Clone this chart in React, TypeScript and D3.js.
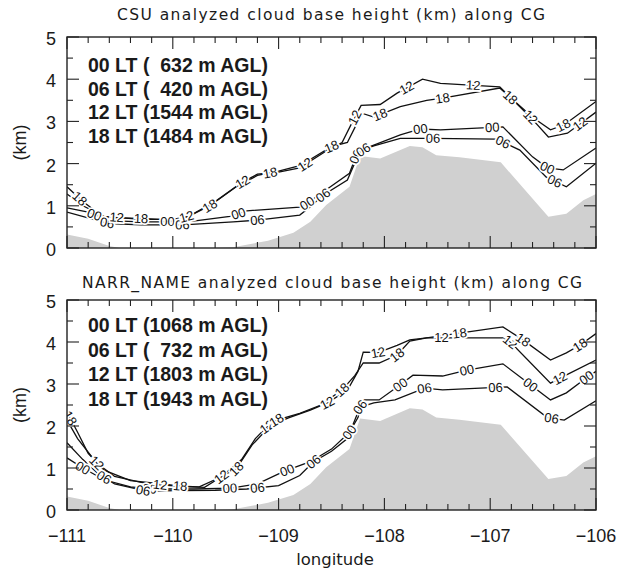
import React from "react";
import * as d3 from "d3";

const lonTicks = [-111, -110, -109, -108, -107, -106];
const kmTicks = [0, 1, 2, 3, 4, 5];

const terrainLon = [-111, -110.8, -110.6, -110.5, -109.6, -109.43, -109.1, -108.86, -108.7, -108.55, -108.33, -108.23, -108.04, -107.76, -107.64, -107.51, -107.29, -106.9, -106.45, -106.28, -106.12, -106];
const terrainKm = [0.32, 0.22, 0.05, 0, 0, 0.02, 0.17, 0.36, 0.62, 1.02, 1.45, 2.18, 2.12, 2.42, 2.39, 2.2, 2.15, 2.03, 0.74, 0.81, 1.13, 1.28];

// CSU analyzed cloud base height (lon, km)
const csu00: [number, number][] = [[-111, 0.95], [-110.8, 0.85], [-110.6, 0.65], [-110.3, 0.62], [-109.9, 0.62], [-109.77, 0.65], [-109.46, 0.75], [-109.3, 0.88], [-108.8, 0.97], [-108.73, 1.06], [-108.51, 1.45], [-108.33, 1.77], [-108.25, 2.3], [-108.1, 2.44], [-107.85, 2.68], [-107.66, 2.82], [-107.47, 2.8], [-106.88, 2.87], [-106.6, 2.16], [-106.46, 1.9], [-106.31, 1.85], [-106, 2.37]];
const csu06: [number, number][] = [[-111, 0.85], [-110.75, 0.68], [-110.6, 0.58], [-110.3, 0.55], [-109.9, 0.55], [-109.43, 0.62], [-109.2, 0.66], [-108.8, 0.78], [-108.7, 0.98], [-108.58, 1.25], [-108.35, 1.61], [-108.23, 2.3], [-108.1, 2.42], [-107.85, 2.6], [-107.54, 2.6], [-106.94, 2.58], [-106.88, 2.51], [-106.72, 2.32], [-106.47, 1.68], [-106.28, 1.45], [-106, 2.01]];
const csu12: [number, number][] = [[-111, 1.28], [-110.85, 1.0], [-110.65, 0.75], [-110.3, 0.68], [-110.0, 0.68], [-109.85, 0.75], [-109.6, 1.1], [-109.35, 1.55], [-109.2, 1.75], [-109.0, 1.8], [-108.8, 1.9], [-108.55, 2.3], [-108.4, 2.5], [-108.3, 3.0], [-108.22, 3.38], [-108.04, 3.4], [-107.88, 3.67], [-107.64, 4.0], [-107.47, 3.9], [-106.91, 3.82], [-106.62, 3.1], [-106.45, 2.63], [-106.27, 2.72], [-106, 3.22]];
const csu18: [number, number][] = [[-111, 1.45], [-110.85, 1.1], [-110.65, 0.72], [-110.3, 0.7], [-110.0, 0.66], [-109.85, 0.75], [-109.65, 1.0], [-109.4, 1.45], [-109.2, 1.72], [-109.0, 1.82], [-108.8, 1.95], [-108.5, 2.4], [-108.35, 2.5], [-108.27, 2.9], [-108.22, 3.2], [-108.1, 3.1], [-107.85, 3.35], [-107.6, 3.5], [-107.45, 3.55], [-106.91, 3.79], [-106.6, 3.1], [-106.43, 2.8], [-106.3, 2.92], [-106, 3.47]];

const csu00Labels = [-110.74, -110.05, -109.38, -108.73, -108.27, -107.66, -106.98, -106.46];
const csu06Labels = [-110.62, -109.91, -109.2, -108.58, -108.2, -107.54, -106.88, -106.39];
const csu12Labels = [-110.53, -109.87, -109.34, -108.75, -108.28, -107.79, -107.16, -106.62, -106.15];
const csu18Labels = [-110.88, -110.3, -109.65, -109.08, -108.5, -108.04, -107.45, -106.81, -106.31];

// NARR_NAME analyzed cloud base height (lon, km)
const narr00: [number, number][] = [[-111, 1.24], [-110.85, 1.0], [-110.65, 0.72], [-110.4, 0.55], [-110.2, 0.5], [-109.8, 0.5], [-109.45, 0.52], [-109.2, 0.62], [-108.95, 0.92], [-108.7, 1.15], [-108.5, 1.45], [-108.33, 1.85], [-108.25, 2.2], [-108.2, 2.62], [-108.05, 2.62], [-107.85, 2.98], [-107.73, 3.21], [-107.45, 3.19], [-107.22, 3.33], [-106.88, 3.48], [-106.62, 2.98], [-106.43, 2.62], [-106.28, 2.79], [-106.09, 3.15], [-106, 3.3]];
const narr06: [number, number][] = [[-111, 1.6], [-110.85, 1.2], [-110.7, 0.85], [-110.55, 0.62], [-110.25, 0.45], [-109.95, 0.46], [-109.6, 0.47], [-109.3, 0.5], [-109.0, 0.58], [-108.8, 0.82], [-108.67, 1.15], [-108.5, 1.4], [-108.35, 1.7], [-108.23, 2.45], [-108.1, 2.55], [-107.9, 2.62], [-107.62, 2.9], [-107.45, 2.86], [-106.84, 2.93], [-106.46, 2.2], [-106.3, 2.14], [-106, 2.6]];
const narr12: [number, number][] = [[-111, 2.14], [-110.9, 1.7], [-110.72, 1.12], [-110.55, 0.8], [-110.3, 0.66], [-110.12, 0.6], [-109.85, 0.55], [-109.7, 0.54], [-109.54, 0.79], [-109.35, 1.2], [-109.22, 1.7], [-109.11, 1.98], [-108.9, 2.2], [-108.7, 2.38], [-108.54, 2.55], [-108.35, 2.85], [-108.25, 3.3], [-108.2, 3.76], [-108.06, 3.75], [-107.88, 3.92], [-107.76, 4.05], [-107.6, 4.1], [-107.46, 4.1], [-106.88, 4.1], [-106.81, 4.0], [-106.43, 3.02], [-106.34, 3.14], [-106, 3.57]];
const narr18: [number, number][] = [[-111, 2.33], [-110.9, 1.85], [-110.8, 1.35], [-110.65, 0.95], [-110.4, 0.7], [-110.1, 0.62], [-109.93, 0.57], [-109.75, 0.55], [-109.55, 0.78], [-109.4, 0.98], [-109.25, 1.55], [-109.1, 1.95], [-109.02, 2.14], [-108.8, 2.3], [-108.6, 2.5], [-108.4, 2.86], [-108.28, 3.2], [-108.2, 3.5], [-108.05, 3.5], [-107.88, 3.69], [-107.76, 4.02], [-107.6, 4.1], [-107.29, 4.21], [-106.88, 4.36], [-106.69, 4.05], [-106.43, 3.57], [-106.28, 3.74], [-106.15, 3.93], [-106, 4.2]];

const narr00Labels = [-110.85, -110.22, -109.46, -108.92, -108.33, -107.85, -107.22, -106.62, -106.09];
const narr06Labels = [-110.65, -110.28, -109.2, -108.67, -108.23, -107.62, -106.95, -106.42];
const narr12Labels = [-110.72, -110.12, -109.54, -109.11, -108.54, -108.06, -107.46, -106.81, -106.34];
const narr18Labels = [-110.97, -109.93, -109.4, -109.02, -108.4, -107.88, -107.29, -106.69, -106.15];

const seriesNames = ["00", "06", "12", "18"];

const csuTitle = "CSU analyzed cloud base height (km) along CG";
const narrTitle = "NARR_NAME analyzed cloud base height (km) along CG";
const csuLegend = ["00 LT (  632 m AGL)", "06 LT (  420 m AGL)", "12 LT (1544 m AGL)", "18 LT (1484 m AGL)"];
const narrLegend = ["00 LT (1068 m AGL)", "06 LT (  732 m AGL)", "12 LT (1803 m AGL)", "18 LT (1943 m AGL)"];
const yAxisLabel = "(km)";
const xAxisLabel = "longitude";

const X0 = 67;
const X1 = 596;

function interp(pts: [number, number][], lon: number) {
  for (let i = 0; i < pts.length - 1; i++) {
    const [a, ha] = pts[i];
    const [b, hb] = pts[i + 1];
    if (lon >= a && lon <= b) return ha + ((hb - ha) * (lon - a)) / (b - a);
  }
  return lon < pts[0][0] ? pts[0][1] : pts[pts.length - 1][1];
}

type PanelProps = {
  top: number;
  bottom: number;
  title: string;
  titleY: number;
  titleX0: number;
  titleX1: number;
  series: [number, number][][];
  labels: number[][];
  legend: string[];
  legendY: number;
  legendStep: number;
  showXLabels: boolean;
};

function Panel(p: PanelProps) {
  const x = d3.scaleLinear().domain([-111, -106]).range([X0, X1]);
  const y = d3.scaleLinear().domain([0, 5]).range([p.bottom, p.top]);
  const terrain = terrainLon.map((lon, i) => [lon, terrainKm[i]] as [number, number]);
  const area = d3
    .area<[number, number]>()
    .x((d) => x(d[0]))
    .y0(y(0))
    .y1((d) => y(d[1]));
  const line = d3
    .line<[number, number]>()
    .x((d) => x(d[0]))
    .y((d) => y(d[1]));
  const xMinor = d3.range(0, 26).map((i) => -111 + i * 0.2);
  const yMinor = d3.range(0, 11).map((i) => i * 0.5);
  const clipId = "clip" + p.top;
  return (
    <g>
      <text
        x={(p.titleX0 + p.titleX1) / 2}
        y={p.titleY}
        textAnchor="middle"
        fontFamily="DejaVu Sans"
        fontSize={15.5}
        textLength={p.titleX1 - p.titleX0}
        lengthAdjust="spacing"
        fill="#1a1a1a"
      >
        {p.title}
      </text>
      <defs>
        <clipPath id={clipId}>
          <rect x={X0} y={p.top} width={X1 - X0} height={p.bottom - p.top} />
        </clipPath>
      </defs>
      <g clipPath={`url(#${clipId})`}>
        <path d={area(terrain) || ""} fill="#d0d0d0" />
        {p.series.map((s, i) => (
          <path key={i} d={line(s) || ""} fill="none" stroke="#111" strokeWidth={1.3} />
        ))}
        {p.series.map((s, i) =>
          p.labels[i].map((lon, j) => {
            const px = x(lon);
            const py = y(interp(s, lon));
            const ax = x(lon - 0.04), ay = y(interp(s, lon - 0.04));
            const bx = x(lon + 0.04), by = y(interp(s, lon + 0.04));
            let ang = (Math.atan2(by - ay, bx - ax) * 180) / Math.PI;
            if (ang > 90) ang -= 180;
            if (ang < -90) ang += 180;
            return (
              <text
                key={i + "-" + j}
                x={px}
                y={py}
                transform={`rotate(${ang},${px},${py})`}
                textAnchor="middle"
                dominantBaseline="central"
                fontFamily="Liberation Sans"
                fontSize={13}
                fill="#111"
                stroke="#fff"
                strokeWidth={3.5}
                paintOrder="stroke"
              >
                {seriesNames[i]}
              </text>
            );
          })
        )}
      </g>
      {p.legend.map((t, i) => (
        <text
          key={t}
          x={88}
          y={p.legendY + i * p.legendStep}
          fontFamily="Liberation Sans"
          fontWeight="bold"
          fontSize={19.5}
          fill="#1a1a1a"
          style={{ whiteSpace: "pre" }}
        >
          {t}
        </text>
      ))}
      <rect x={X0} y={p.top} width={X1 - X0} height={p.bottom - p.top} fill="none" stroke="#222" strokeWidth={1.4} />
      {xMinor.map((lon, i) => {
        const len = i % 5 === 0 ? 12 : 6;
        return (
          <g key={"xt" + i}>
            <line x1={x(lon)} x2={x(lon)} y1={p.bottom} y2={p.bottom - len} stroke="#222" strokeWidth={1.1} />
            <line x1={x(lon)} x2={x(lon)} y1={p.top} y2={p.top + len} stroke="#222" strokeWidth={1.1} />
          </g>
        );
      })}
      {yMinor.map((v, i) => {
        const len = i % 2 === 0 ? 12 : 6;
        return (
          <g key={"yt" + i}>
            <line x1={X0} x2={X0 + len} y1={y(v)} y2={y(v)} stroke="#222" strokeWidth={1.1} />
            <line x1={X1} x2={X1 - len} y1={y(v)} y2={y(v)} stroke="#222" strokeWidth={1.1} />
          </g>
        );
      })}
      {kmTicks.map((v) => (
        <text key={"yl" + v} x={56} y={y(v) + 2} textAnchor="end" dominantBaseline="central" fontFamily="Liberation Sans" fontSize={18} fill="#1a1a1a">
          {v}
        </text>
      ))}
      <text
        x={0}
        y={0}
        transform={`translate(20,${(p.top + p.bottom) / 2}) rotate(-90)`}
        textAnchor="middle"
        dominantBaseline="central"
        fontFamily="Liberation Sans"
        fontSize={18}
        fill="#1a1a1a"
      >
        {yAxisLabel}
      </text>
      {p.showXLabels &&
        lonTicks.map((lon) => (
          <text key={"xl" + lon} x={x(lon)} y={542} textAnchor="middle" fontFamily="Liberation Sans" fontSize={18} fill="#1a1a1a">
            {"\u2212" + Math.abs(lon)}
          </text>
        ))}
    </g>
  );
}

export default function App() {
  return (
    <svg width={617} height={573} style={{ position: "absolute", left: 0, top: 0, background: "#fff" }}>
      <rect width={617} height={573} fill="#fff" />
      <Panel
        top={37}
        bottom={248}
        title={csuTitle}
        titleY={20}
        titleX0={117}
        titleX1={545}
        series={[csu00, csu06, csu12, csu18]}
        labels={[csu00Labels, csu06Labels, csu12Labels, csu18Labels]}
        legend={csuLegend}
        legendY={72}
        legendStep={23.5}
        showXLabels={false}
      />
      <Panel
        top={300}
        bottom={510}
        title={narrTitle}
        titleY={288}
        titleX0={82}
        titleX1={582}
        series={[narr00, narr06, narr12, narr18]}
        labels={[narr00Labels, narr06Labels, narr12Labels, narr18Labels]}
        legend={narrLegend}
        legendY={332}
        legendStep={24.5}
        showXLabels={true}
      />
      <text x={335} y={565} textAnchor="middle" fontFamily="DejaVu Sans" fontSize={16.5} fill="#1a1a1a">
        {xAxisLabel}
      </text>
    </svg>
  );
}
